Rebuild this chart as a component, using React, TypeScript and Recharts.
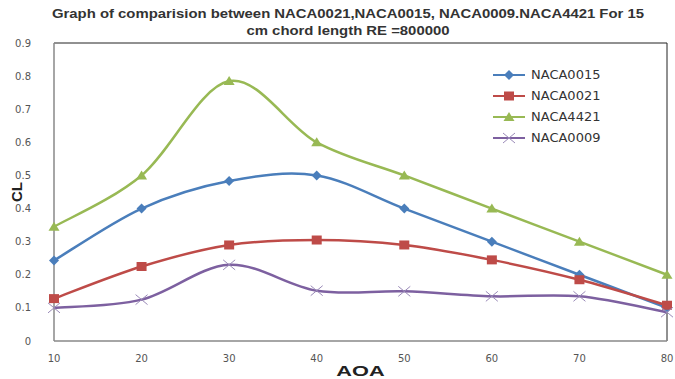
import React from "react";
import { LineChart, Line, XAxis, YAxis, Legend, ReferenceLine } from "recharts";

const aoa = [10, 20, 30, 40, 50, 60, 70, 80];
const naca0015 = [0.243, 0.4, 0.483, 0.5, 0.4, 0.3, 0.2, 0.1];
const naca0021 = [0.128, 0.225, 0.29, 0.305, 0.29, 0.245, 0.185, 0.108];
const naca4421 = [0.345, 0.5, 0.785, 0.6, 0.5, 0.4, 0.3, 0.2];
const naca0009 = [0.1, 0.125, 0.23, 0.152, 0.15, 0.135, 0.135, 0.087];
const yTicks = [0, 0.1, 0.2, 0.3, 0.4, 0.5, 0.6, 0.7, 0.8, 0.9];

const data = aoa.map((a, i) => ({
  aoa: a,
  NACA0015: naca0015[i],
  NACA0021: naca0021[i],
  NACA4421: naca4421[i],
  NACA0009: naca0009[i],
}));

const series = [
  { key: "NACA0015", color: "#4a7ebb", marker: "diamond" },
  { key: "NACA0021", color: "#be4b48", marker: "square" },
  { key: "NACA4421", color: "#98b954", marker: "triangle" },
  { key: "NACA0009", color: "#7d60a0", marker: "cross" },
];

// excel style smoothed line (catmull-rom as cubic bezier)
const excelSmooth: any = (context: any) => {
  let pts: number[][] = [];
  return {
    areaStart() {},
    areaEnd() {},
    lineStart() {
      pts = [];
    },
    lineEnd() {
      if (!pts.length) return;
      context.moveTo(pts[0][0], pts[0][1]);
      for (let i = 0; i < pts.length - 1; i++) {
        const p0 = pts[i - 1] || pts[i];
        const p1 = pts[i];
        const p2 = pts[i + 1];
        const p3 = pts[i + 2] || p2;
        context.bezierCurveTo(
          p1[0] + (p2[0] - p0[0]) / 6,
          p1[1] + (p2[1] - p0[1]) / 6,
          p2[0] - (p3[0] - p1[0]) / 6,
          p2[1] - (p3[1] - p1[1]) / 6,
          p2[0],
          p2[1]
        );
      }
    },
    point(x: number, y: number) {
      pts.push([+x, +y]);
    },
  };
};

const Marker = ({ cx, cy, kind, color }: any) => {
  if (cx == null || cy == null) return null;
  if (kind === "diamond")
    return <polygon points={`${cx},${cy - 5} ${cx + 5},${cy} ${cx},${cy + 5} ${cx - 5},${cy}`} fill={color} />;
  if (kind === "square") return <rect x={cx - 5} y={cy - 4.5} width={10} height={9} fill={color} />;
  if (kind === "triangle")
    return <polygon points={`${cx},${cy - 5} ${cx + 5.5},${cy + 4} ${cx - 5.5},${cy + 4}`} fill={color} />;
  return (
    <g stroke="#9a8ab8" strokeWidth={1}>
      <line x1={cx - 6} y1={cy - 5} x2={cx + 6} y2={cy + 5} />
      <line x1={cx - 6} y1={cy + 5} x2={cx + 6} y2={cy - 5} />
    </g>
  );
};

const LegendBox = () => (
  <div style={{ fontFamily: "DejaVu Sans", fontSize: 13, color: "#333" }}>
    {series.map((s) => (
      <div key={s.key} style={{ display: "flex", alignItems: "center", height: 21 }}>
        <svg width={38} height={14}>
          <line x1={0} y1={7} x2={32} y2={7} stroke={s.color} strokeWidth={2} />
          <Marker cx={16} cy={7} kind={s.marker} color={s.color} />
        </svg>
        <span>{s.key}</span>
      </div>
    ))}
  </div>
);

const axisTitle = { fontFamily: "Liberation Sans", fontWeight: 700, fontSize: 15, fill: "#222" };

const XTitle = ({ viewBox }: any) => (
  <text
    transform={`translate(${viewBox.x + viewBox.width / 2}, 376) scale(1.45, 1)`}
    textAnchor="middle"
    style={axisTitle}
  >
    AOA
  </text>
);

const YTitle = ({ viewBox }: any) => (
  <text
    transform={`translate(22, ${viewBox.y + viewBox.height / 2}) rotate(-90)`}
    textAnchor="middle"
    style={axisTitle}
  >
    CL
  </text>
);

const App = () => {
  return (
    <div style={{ position: "relative", width: 675, height: 379, background: "#fff" }}>
      <style>{"body{margin:0}"}</style>
      <div
        style={{
          position: "absolute",
          left: 0,
          width: 696,
          top: 6,
          textAlign: "center",
          fontFamily: "Liberation Sans",
          fontWeight: 700,
          fontSize: 12,
          lineHeight: "17px",
          color: "#333",
          transform: "scaleX(1.24)",
          transformOrigin: "348px 0",
        }}
      >
        <div style={{ whiteSpace: "nowrap" }}>Graph of comparision between NACA0021,NACA0015, NACA0009.NACA4421 For 15</div>
        <div>cm chord length RE =800000</div>
      </div>
      <LineChart width={675} height={379} data={data} margin={{ top: 43, right: 8, left: 0, bottom: 0 }}>
        <XAxis
          dataKey="aoa"
          type="number"
          domain={[10, 80]}
          ticks={aoa}
          height={38}
          tickLine={false}
          axisLine={{ stroke: "#888", strokeWidth: 1.5 }}
          tick={{ fontFamily: "DejaVu Sans", fontSize: 10, fill: "#555" }}
          tickMargin={8}
          label={<XTitle />}
        />
        <YAxis
          domain={[0, 0.9]}
          ticks={yTicks}
          width={54}
          tickLine={false}
          axisLine={{ stroke: "#888", strokeWidth: 1.5 }}
          tick={{ fontFamily: "DejaVu Sans", fontSize: 10, fill: "#555" }}
          tickMargin={17}
          label={<YTitle />}
        />
        <ReferenceLine y={0.9} stroke="#222" strokeWidth={1} />
        <ReferenceLine x={80} stroke="#222" strokeWidth={1} />
        <Legend
          layout="vertical"
          verticalAlign="middle"
          align="center"
          content={<LegendBox />}
          wrapperStyle={{ top: 64, left: 493, width: 130 }}
        />
        {series.map((s) => (
          <Line
            key={s.key}
            dataKey={s.key}
            type={excelSmooth}
            stroke={s.color}
            strokeWidth={2.5}
            isAnimationActive={false}
            dot={(p: any) => <Marker key={`${s.key}-${p.index}`} cx={p.cx} cy={p.cy} kind={s.marker} color={s.color} />}
            activeDot={false}
          />
        ))}
      </LineChart>
    </div>
  );
};

export default App;
